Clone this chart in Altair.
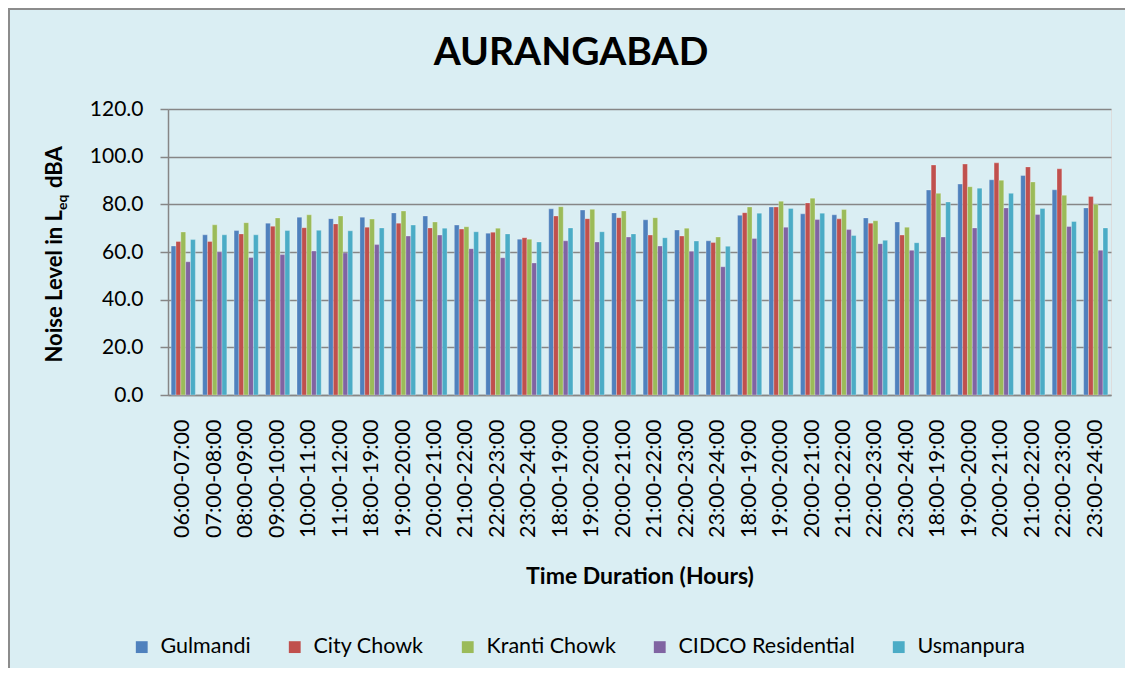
import altair as alt
import pandas as pd

labels = ["06:00-07:00", "07:00-08:00", "08:00-09:00", "09:00-10:00", "10:00-11:00",
          "11:00-12:00", "18:00-19:00", "19:00-20:00", "20:00-21:00", "21:00-22:00",
          "22:00-23:00", "23:00-24:00",
          "18:00-19:00", "19:00-20:00", "20:00-21:00", "21:00-22:00", "22:00-23:00", "23:00-24:00",
          "18:00-19:00", "19:00-20:00", "20:00-21:00", "21:00-22:00", "22:00-23:00", "23:00-24:00",
          "18:00-19:00", "19:00-20:00", "20:00-21:00", "21:00-22:00", "22:00-23:00", "23:00-24:00"]

series = ["Gulmandi", "City Chowk", "Kranti Chowk", "CIDCO Residential", "Usmanpura"]
colors = ["#4F81BD", "#C0504D", "#9BBB59", "#8064A2", "#4BACC6"]

gulmandi = [62.5, 67.2, 69.0, 72.1, 74.6, 74.0, 74.6, 76.4, 75.1, 71.3, 67.9, 65.4,
            78.1, 77.6, 76.4, 73.5, 69.2, 64.7, 75.4, 78.9, 76.0, 75.6, 74.3, 72.6,
            86.0, 88.5, 90.3, 92.1, 86.1, 78.5]
city_chowk = [64.4, 64.4, 67.6, 70.8, 70.2, 71.8, 70.4, 72.1, 70.1, 69.6, 68.3, 66.0,
              75.1, 74.0, 74.4, 67.1, 66.7, 64.0, 76.5, 78.9, 80.6, 73.9, 72.1, 67.1,
              96.5, 96.9, 97.4, 95.7, 94.9, 83.3]
kranti_chowk = [68.4, 71.4, 72.3, 74.3, 75.6, 75.1, 73.8, 77.2, 72.6, 70.6, 70.0, 65.4,
                79.0, 77.9, 77.2, 74.4, 70.0, 66.3, 78.9, 81.3, 82.6, 77.8, 73.1, 70.4,
                84.6, 87.4, 90.1, 89.4, 83.8, 80.0]
cidco = [55.9, 60.1, 57.7, 58.9, 60.4, 59.6, 63.1, 66.7, 67.1, 61.4, 57.6, 55.4,
         64.7, 64.2, 66.3, 62.5, 60.3, 53.8, 65.7, 70.4, 73.6, 69.4, 63.5, 60.7,
         66.3, 70.1, 78.5, 75.7, 70.7, 60.7]
usmanpura = [65.2, 67.2, 67.2, 69.0, 69.1, 68.9, 70.1, 71.3, 70.0, 68.5, 67.6, 64.2,
             70.1, 68.5, 67.6, 66.0, 64.6, 62.4, 76.3, 78.3, 76.3, 66.9, 64.9, 63.9,
             81.0, 86.8, 84.6, 78.2, 72.8, 70.1]

y_ticks = [0, 20, 40, 60, 80, 100, 120]

all_values = [gulmandi, city_chowk, kranti_chowk, cidco, usmanpura]
rows = []
for s, vals in zip(series, all_values):
    for i, v in enumerate(vals):
        rows.append({"idx": i, "series": s, "value": v})
df = pd.DataFrame(rows)

label_expr = "[" + ",".join("'" + l + "'" for l in labels) + "][datum.value]"

FONT = "Lato"
GREY = "#868686"

bars = alt.Chart(df).mark_bar(stroke="white", strokeOpacity=0.45, strokeWidth=0.6).encode(
    x=alt.X("idx:O",
            scale=alt.Scale(paddingInner=0.23, paddingOuter=0.1),
            axis=alt.Axis(title="Time Duration (Hours)", labelExpr=label_expr,
                          labelAngle=270, labelFontSize=21.5, labelFont=FONT,
                          labelColor="black", labelPadding=24, ticks=False,
                          domainColor=GREY, domainWidth=1.5,
                          titleFont=FONT, titleFontSize=23, titleFontWeight="bold",
                          titleColor="black", titlePadding=28)),
    xOffset=alt.XOffset("series:N", sort=series, scale=alt.Scale(paddingInner=0.0)),
    y=alt.Y("value:Q",
            scale=alt.Scale(domain=[0, 120], nice=False),
            axis=alt.Axis(title=None, values=y_ticks, format=".1f",
                          labelFontSize=21, labelFont=FONT, labelColor="black",
                          labelPadding=17, tickSize=8, tickColor=GREY, tickWidth=1.5,
                          domainColor=GREY, domainWidth=1.5,
                          gridColor=GREY, gridWidth=1.5)),
    color=alt.Color("series:N", sort=series,
                    scale=alt.Scale(domain=series, range=colors),
                    legend=alt.Legend(title=None, orient="none", legendX=-37, legendY=527,
                                      direction="horizontal", symbolType="square",
                                      symbolSize=140, symbolStrokeWidth=0,
                                      labelFont=FONT, labelFontSize=21.5, labelColor="black",
                                      labelLimit=400, columnPadding=33, labelOffset=8)),
)

one = alt.Data(values=[{"a": 1}])

title = alt.Chart(one).mark_text(align="center", baseline="alphabetic",
                                 font=FONT, fontSize=39, fontWeight="bold",
                                 color="black", text="AURANGABAD").encode(
    x=alt.value(403), y=alt.value(-44))

yt_main = alt.Chart(one).mark_text(angle=270, align="right", baseline="middle",
                                   font=FONT, fontSize=22, fontWeight="bold",
                                   color="black", text="Noise Level in L").encode(
    x=alt.value(-113), y=alt.value(101))
yt_sub = alt.Chart(one).mark_text(angle=270, align="left", baseline="middle",
                                  font=FONT, fontSize=14, fontWeight="bold",
                                  color="black", text="eq", dy=8).encode(
    x=alt.value(-113), y=alt.value(101))
yt_rest = alt.Chart(one).mark_text(angle=270, align="left", baseline="middle",
                                   font=FONT, fontSize=22, fontWeight="bold",
                                   color="black", text="dBA", dx=22).encode(
    x=alt.value(-113), y=alt.value(101))

border_left = alt.Chart(one).mark_rule(color="#8c8c8c", strokeWidth=2).encode(
    x=alt.value(-159), y=alt.value(-101), y2=alt.value(560))
border_top = alt.Chart(one).mark_rule(color="#8c8c8c", strokeWidth=2).encode(
    x=alt.value(-160), x2=alt.value(960), y=alt.value(-100))

chart = alt.layer(bars, title, yt_main, yt_sub, yt_rest, border_left, border_top).properties(
    width=943, height=286,
    autosize="none",
    padding={"left": 160, "top": 101, "right": 14, "bottom": 273},
    background="#DAEEF3",
).configure_view(fill="white", stroke="transparent").configure(font=FONT)

chart.save("out.html", embed_options={"renderer": "svg", "actions": False})
